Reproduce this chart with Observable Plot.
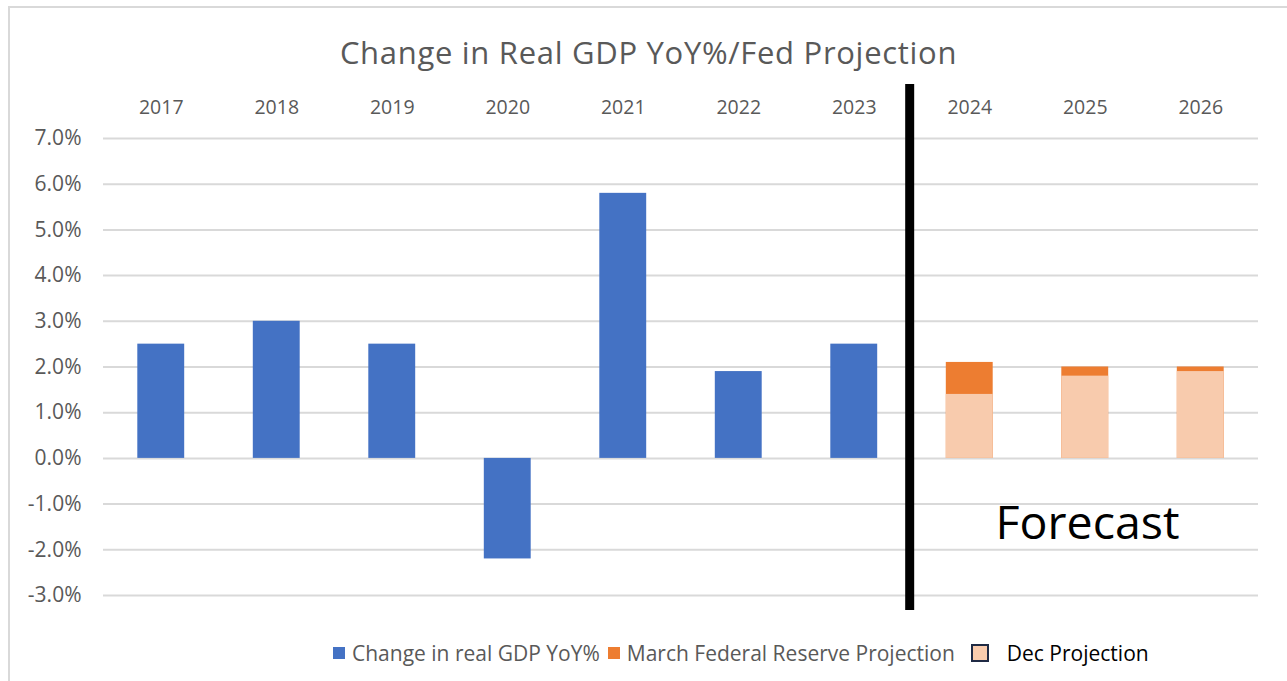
<!DOCTYPE html>
<html>
<head>
<meta charset="utf-8">
<script src="https://cdn.jsdelivr.net/npm/d3@7"></script>
<script src="https://cdn.jsdelivr.net/npm/@observablehq/plot@0.6"></script>
<style>
  html, body { margin: 0; padding: 0; background: #fff; }
  #wrap { position: relative; width: 1287px; height: 681px; overflow: hidden; font-family: "Open Sans", Lato, sans-serif; }
  #frame { position: absolute; left: 8px; top: 6px; right: -10px; bottom: -10px; border-left: 2px solid #d9d9d9; border-top: 2px solid #d9d9d9; }
  #title { position: absolute; left: 0; width: 1297px; top: 32px; text-align: center; font-size: 31px; letter-spacing: 0.7px; color: #595959; line-height: 40px; }
  #chart { position: absolute; left: 0; top: 80px; }
  #legend { position: absolute; top: 639px; left: 333px; font-size: 21px; color: #595959; display: flex; align-items: center; white-space: nowrap; line-height: 28px; }
  .sw { display: inline-block; width: 12px; height: 12px; margin-right: 7px; }
  .item { display: flex; align-items: center; margin-right: 8px; }
</style>
</head>
<body>
<div id="wrap">
  <div id="frame"></div>
  <div id="title">Change in Real GDP YoY%/Fed Projection</div>
  <div id="chart"></div>
  <div id="legend"></div>
</div>
<script>
const years = [2017, 2018, 2019, 2020, 2021, 2022, 2023];
const actualGDP = [2.5, 3.0, 2.5, -2.2, 5.8, 1.9, 2.5];
const forecastYears = [2024, 2025, 2026];
const marchProjection = [2.1, 2.0, 2.0];
const decProjection = [1.4, 1.8, 1.9];
const yTicks = [-3, -2, -1, 0, 1, 2, 3, 4, 5, 6, 7];
const xTicks = [2017, 2018, 2019, 2020, 2021, 2022, 2023, 2024, 2025, 2026];
const seriesNames = ["Change in real GDP YoY%", "March Federal Reserve Projection", "Dec Projection"];
const forecastDivider = 2023.48;
const forecastLabel = "Forecast";

const colors = { blue: "#4472C4", orange: "#ED7D31", peach: "#F8CBAD" };
const half = 0.203;

const actual = years.map((y, i) => ({ year: y, value: actualGDP[i] }));
const march = forecastYears.map((y, i) => ({ year: y, value: marchProjection[i] }));
const dec = forecastYears.map((y, i) => ({ year: y, value: decProjection[i] }));

const chart = Plot.plot({
  width: 1287,
  height: 545,
  marginLeft: 103,
  marginRight: 29,
  marginTop: 58,
  marginBottom: 30,
  style: { fontFamily: "'Open Sans', Lato, sans-serif", fontSize: "19px", color: "#595959", background: "transparent", overflow: "visible" },
  x: { domain: [2016.5, 2026.5], axis: null },
  y: { domain: [-3, 7], axis: null },
  marks: [
    Plot.ruleY(yTicks, { stroke: "#d9d9d9", strokeWidth: 2 }),
    Plot.rectY(actual, { x1: d => d.year - half, x2: d => d.year + half, y1: 0, y2: "value", fill: colors.blue }),
    Plot.rectY(march, { x1: d => d.year - half, x2: d => d.year + half, y1: 0, y2: "value", fill: colors.orange }),
    Plot.rectY(dec, { x1: d => d.year - half, x2: d => d.year + half, y1: 0, y2: "value", fill: colors.peach }),
    Plot.axisY({ ticks: yTicks, tickSize: 0, tickPadding: 22, label: null, tickFormat: d => d.toFixed(1) + "%", fill: "#595959", fontSize: 21 }),
    Plot.axisX({ anchor: "top", ticks: xTicks, tickSize: 0, tickPadding: 25, label: null, tickFormat: d => String(d), fill: "#595959", fontSize: 19.5 }),
    Plot.ruleX([forecastDivider], { y1: -3.33, y2: 8.18, stroke: "#000", strokeWidth: 9 }),
    Plot.text([forecastLabel], { x: 2025.02, y: -1.43, text: d => d, fill: "#000", fontSize: 46.5, textAnchor: "middle" })
  ]
});
document.getElementById("chart").appendChild(chart);

const legend = document.getElementById("legend");
const swatches = [colors.blue, colors.orange, colors.peach];
seriesNames.forEach((name, i) => {
  const item = document.createElement("span");
  item.className = "item";
  const sw = document.createElement("span");
  sw.className = "sw";
  sw.style.background = swatches[i];
  if (i === 2) {
    sw.style.width = "14px"; sw.style.height = "14px";
    sw.style.border = "2px solid #1f2a44";
    sw.style.marginLeft = "8px";
    sw.style.marginRight = "18px";
  }
  const t = document.createElement("span");
  t.textContent = name;
  if (i === 2) t.style.color = "#000";
  item.appendChild(sw);
  item.appendChild(t);
  legend.appendChild(item);
});
</script>
</body>
</html>
